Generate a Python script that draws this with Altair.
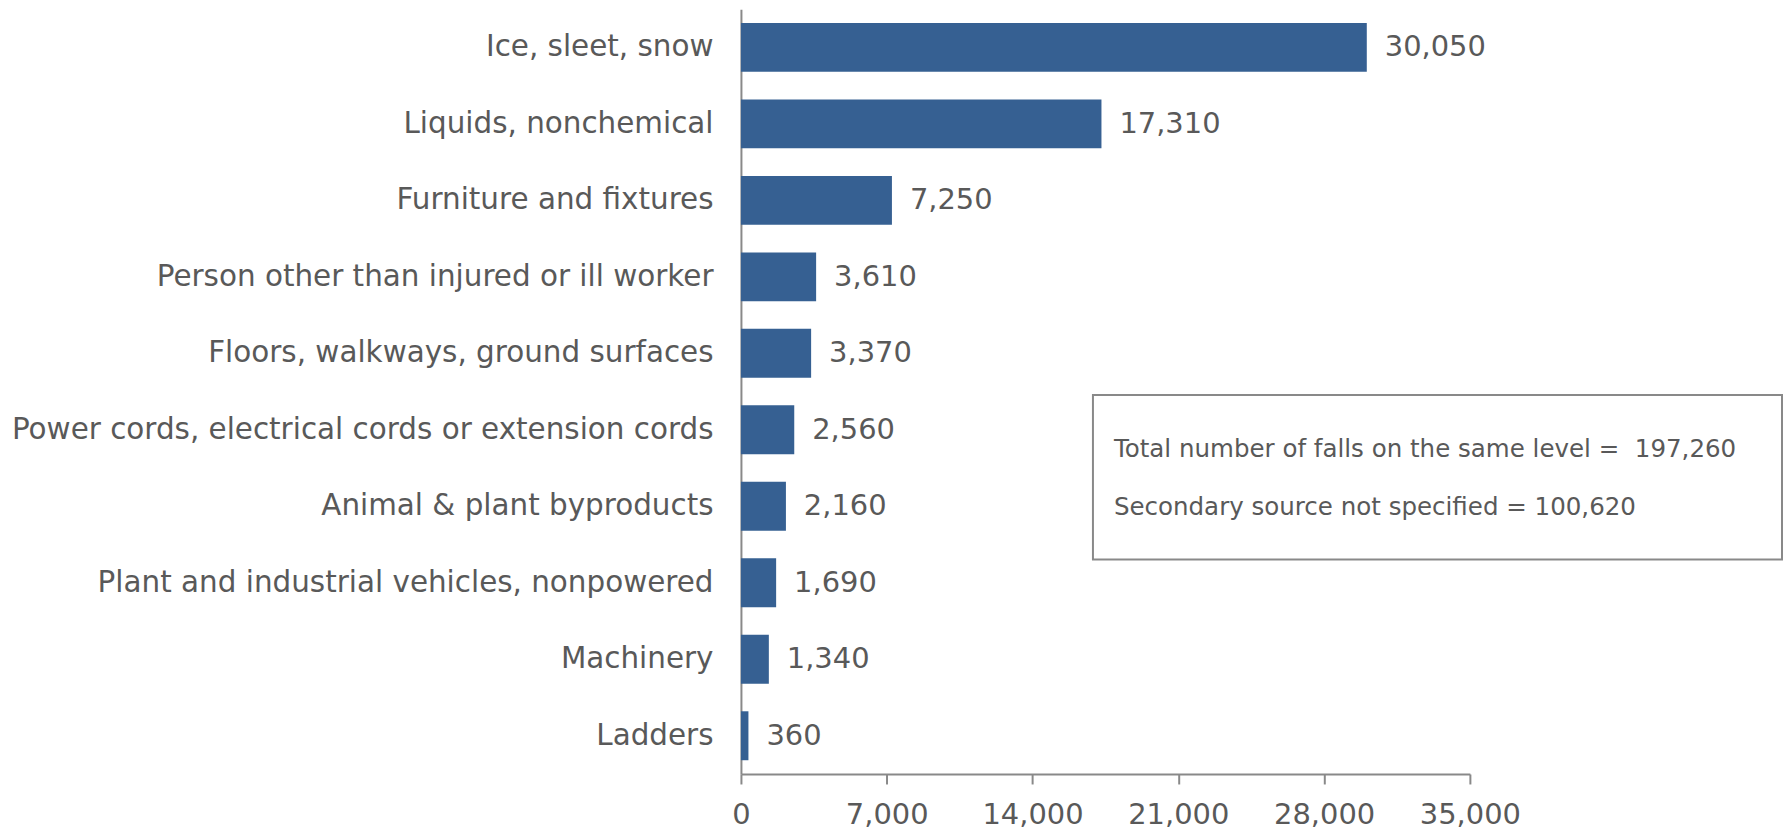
import altair as alt
import pandas as pd

categories = [
    "Ice, sleet, snow",
    "Liquids, nonchemical",
    "Furniture and fixtures",
    "Person other than injured or ill worker",
    "Floors, walkways, ground surfaces",
    "Power cords, electrical cords or extension cords",
    "Animal & plant byproducts",
    "Plant and industrial vehicles, nonpowered",
    "Machinery",
    "Ladders",
]
values = [30050, 17310, 7250, 3610, 3370, 2560, 2160, 1690, 1340, 360]
x_ticks = [0, 7000, 14000, 21000, 28000, 35000]
note_line1 = "Total number of falls on the same level =\u00a0\u00a0197,260"
note_line2 = "Secondary source not specified = 100,620"

FONT = "DejaVu Sans"
GRAY_TEXT = "#595959"
AXIS_GRAY = "#898989"
BAR = "#366092"

df = pd.DataFrame({"category": categories, "value": values})

y_axis = alt.Axis(title=None, ticks=False, labelPadding=28, labelFontSize=29.5,
                  labelLimit=800)
x_axis = alt.Axis(title=None, values=x_ticks, labelExpr="format(datum.value, ',.0f')",
                  tickSize=10, labelPadding=17, labelFontSize=29, grid=False,
                  labelOverlap=False, labelFlush=False)

y_enc = alt.Y("category:N", sort=categories,
              scale=alt.Scale(paddingInner=0.36, paddingOuter=0.18), axis=y_axis)
x_enc = alt.X("value:Q", scale=alt.Scale(domain=[0, 35000]), axis=x_axis)

bars = alt.Chart(df).mark_bar(color=BAR).encode(y=y_enc, x=x_enc)

labels = alt.Chart(df).mark_text(
    align="left", baseline="middle", dx=18, fontSize=29, font=FONT, color=GRAY_TEXT
).encode(
    y=y_enc,
    x=x_enc,
    text=alt.Text("value:Q", format=","),
)

one = pd.DataFrame({"k": [0]})
box = alt.Chart(one).mark_rect(fill="white", stroke=AXIS_GRAY, strokeWidth=2).encode(
    x=alt.value(353), x2=alt.value(1044), y=alt.value(387), y2=alt.value(552)
)
note1 = alt.Chart(one).mark_text(
    align="left", baseline="middle", fontSize=24.6, font=FONT, color=GRAY_TEXT
).encode(x=alt.value(374), y=alt.value(442), text=alt.value(note_line1))
note2 = alt.Chart(one).mark_text(
    align="left", baseline="middle", fontSize=24.6, font=FONT, color=GRAY_TEXT
).encode(x=alt.value(374), y=alt.value(500), text=alt.value(note_line2))

chart = (
    alt.layer(bars, labels, box, note1, note2)
    .properties(
        width=731,
        height=767,
        autosize=alt.AutoSizeParams(type="none"),
        padding={"left": 735, "top": 0, "right": 315, "bottom": 55},
    )
    .configure_view(stroke=None)
    .configure_axis(
        domainColor=AXIS_GRAY,
        domainWidth=2,
        tickColor=AXIS_GRAY,
        tickWidth=2,
        labelColor=GRAY_TEXT,
        labelFont=FONT,
        grid=False,
    )
)

chart.save("out.html", embed_options={"renderer": "svg", "actions": False})
